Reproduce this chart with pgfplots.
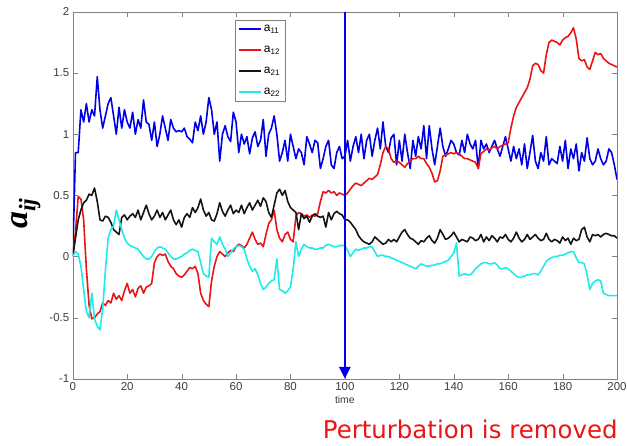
\documentclass[border=0pt]{standalone}
\usepackage{fontspec}
\setmainfont{Liberation Sans}
\newfontfamily\serifbi{Liberation Serif}
\newfontfamily\dejavu{DejaVu Sans}
\usepackage{pgfplots}
\pgfplotsset{compat=1.18}
\usepackage{pgfplotstable}
\usetikzlibrary{arrows.meta}

\definecolor{cA}{RGB}{0,0,230}
\definecolor{cB}{RGB}{235,20,20}
\definecolor{cC}{RGB}{20,20,20}
\definecolor{cD}{RGB}{30,235,235}
\definecolor{axgray}{RGB}{130,130,130}
\definecolor{txtgray}{RGB}{60,60,60}

% t, a11, a12, a21, a22
\pgfplotstableread{
t a11 a12 a21 a22
0 0.00 0.00 0.00 0.00
1 0.85 0.20 0.15 0.04
2 0.85 0.49 0.30 0.02
3 1.20 0.47 0.38 -0.08
4 1.10 0.30 0.44 -0.27
5 1.25 -0.10 0.46 -0.45
6 1.10 -0.40 0.51 -0.50
7 1.20 -0.51 0.50 -0.30
8 1.15 -0.50 0.56 -0.51
9 1.47 -0.47 0.45 -0.57
10 1.20 -0.45 0.30 -0.60
11 1.05 -0.38 0.29 -0.43
12 1.15 -0.40 0.33 -0.11
13 1.25 -0.36 0.32 0.15
14 1.30 -0.38 0.28 0.22
15 1.15 -0.30 0.22 0.25
16 1.00 -0.35 0.20 0.38
17 1.22 -0.32 0.18 0.30
18 1.05 -0.36 0.32 0.22
19 1.20 -0.28 0.34 0.15
20 1.10 -0.22 0.30 0.11
21 1.05 -0.30 0.33 0.09
22 1.18 -0.27 0.35 0.08
23 1.00 -0.33 0.32 0.07
24 1.12 -0.26 0.38 0.06
25 1.05 -0.24 0.30 0.03
26 1.28 -0.30 0.36 0.00
27 1.10 -0.25 0.42 -0.02
28 1.08 -0.24 0.35 -0.02
29 0.95 -0.22 0.30 0.00
30 1.10 -0.05 0.33 0.04
31 0.90 0.00 0.38 0.07
32 1.00 0.02 0.32 0.08
33 1.15 0.01 0.36 0.07
34 1.05 0.02 0.30 0.06
35 0.95 -0.04 0.34 0.03
36 1.12 -0.08 0.38 0.00
37 1.05 -0.10 0.30 -0.02
38 1.02 -0.14 0.26 -0.02
39 1.03 -0.16 0.30 -0.01
40 1.02 -0.17 0.24 0.00
41 1.05 -0.15 0.32 0.02
42 0.98 -0.12 0.35 0.03
43 0.96 -0.09 0.32 0.05
44 0.93 -0.10 0.40 0.06
45 1.10 -0.08 0.36 0.05
46 1.03 -0.14 0.40 0.04
47 1.15 -0.30 0.47 -0.05
48 1.00 -0.36 0.38 -0.14
49 1.10 -0.39 0.33 -0.16
50 1.30 -0.41 0.36 -0.17
51 1.20 -0.20 0.30 0.15
52 1.00 -0.08 0.29 0.12
53 1.10 0.00 0.35 0.10
54 0.78 0.04 0.44 0.16
55 1.00 0.02 0.37 0.10
56 1.07 0.00 0.33 0.06
57 0.98 0.03 0.38 0.00
58 0.94 0.05 0.42 0.03
59 1.18 0.04 0.35 0.06
60 1.10 0.08 0.38 0.08
61 0.85 0.10 0.36 0.09
62 1.00 0.09 0.42 0.08
63 0.92 0.07 0.35 0.06
64 0.98 0.10 0.40 -0.02
65 0.84 0.15 0.44 -0.08
66 0.97 0.20 0.38 -0.12
67 1.02 0.14 0.42 -0.10
68 0.90 0.10 0.46 -0.15
69 0.95 0.11 0.41 -0.22
70 1.12 0.08 0.48 -0.27
71 0.82 0.18 0.45 -0.25
72 1.00 0.27 0.36 -0.22
73 1.05 0.30 0.32 -0.20
74 1.15 0.38 0.42 -0.19
75 1.00 0.22 0.52 -0.02
76 0.78 0.15 0.55 -0.27
77 0.85 0.12 0.50 -0.28
78 0.95 0.18 0.54 -0.30
79 0.78 0.20 0.45 -0.28
80 1.00 0.14 0.40 -0.25
81 0.90 0.12 0.38 -0.10
82 0.80 0.33 0.36 0.12
83 0.88 0.36 0.22 0.00
84 0.85 0.35 0.35 0.06
85 0.75 0.33 0.31 0.10
86 0.98 0.34 0.33 0.08
87 0.92 0.32 0.28 0.07
88 0.85 0.34 0.33 0.07
89 0.95 0.33 0.35 0.06
90 0.93 0.35 0.33 0.06
91 0.72 0.45 0.32 0.07
92 0.80 0.53 0.33 0.07
93 0.90 0.52 0.24 0.09
94 0.95 0.54 0.36 0.10
95 0.75 0.52 0.30 0.09
96 0.72 0.53 0.35 0.08
97 0.85 0.50 0.37 0.08
98 0.90 0.52 0.35 0.09
99 0.80 0.51 0.34 0.09
100 0.82 0.50 0.30 0.09
101 0.95 0.52 0.30 0.05
102 0.78 0.55 0.28 0.00
103 0.90 0.58 0.25 0.03
104 0.98 0.60 0.22 0.06
105 0.85 0.59 0.17 0.05
106 1.00 0.58 0.14 0.06
107 0.80 0.60 0.12 0.07
108 0.95 0.62 0.11 0.07
109 1.00 0.64 0.10 0.08
110 0.82 0.63 0.12 0.08
111 0.95 0.65 0.16 0.04
112 1.05 0.67 0.14 0.00
113 0.88 0.75 0.12 0.01
114 1.10 0.85 0.10 0.01
115 0.90 0.90 0.11 0.00
116 0.85 0.88 0.14 0.00
117 0.97 0.80 0.12 -0.01
118 1.00 0.77 0.14 -0.02
119 0.75 0.78 0.12 -0.03
120 0.95 0.77 0.16 -0.04
121 0.78 0.75 0.20 -0.05
122 1.00 0.73 0.22 -0.06
123 0.85 0.76 0.18 -0.07
124 0.72 0.78 0.15 -0.08
125 0.95 0.80 0.14 -0.09
126 0.82 0.80 0.12 -0.10
127 0.98 0.82 0.10 -0.08
128 0.88 0.80 0.13 -0.06
129 1.07 0.80 0.12 -0.07
130 0.80 0.76 0.15 -0.08
131 1.07 0.73 0.17 -0.08
132 0.88 0.68 0.13 -0.07
133 0.75 0.61 0.11 -0.07
134 0.90 0.62 0.15 -0.06
135 1.05 0.70 0.22 -0.06
136 0.90 0.82 0.18 -0.05
137 0.82 0.83 0.14 -0.04
138 0.88 0.84 0.15 -0.03
139 0.95 0.85 0.17 0.00
140 0.92 0.84 0.20 0.03
141 0.85 0.85 0.16 0.11
142 0.83 0.84 0.12 -0.16
143 0.95 0.82 0.14 -0.15
144 0.85 0.80 0.13 -0.14
145 1.00 0.80 0.12 -0.15
146 0.92 0.79 0.16 -0.15
147 0.88 0.78 0.15 -0.13
148 0.95 0.77 0.13 -0.10
149 0.72 0.72 0.14 -0.08
150 0.95 0.84 0.18 -0.06
151 0.88 0.86 0.12 -0.05
152 0.92 0.88 0.16 -0.05
153 0.85 0.87 0.13 -0.06
154 0.90 0.89 0.17 -0.06
155 0.95 0.90 0.15 -0.05
156 0.88 0.88 0.12 -0.07
157 0.82 0.90 0.16 -0.10
158 0.90 0.91 0.15 -0.10
159 0.98 0.92 0.18 -0.09
160 0.88 0.93 0.14 -0.10
161 0.78 1.05 0.12 -0.12
162 0.90 1.15 0.15 -0.14
163 0.80 1.22 0.20 -0.16
164 0.88 1.26 0.15 -0.17
165 0.75 1.30 0.12 -0.17
166 0.92 1.34 0.14 -0.16
167 0.72 1.38 0.18 -0.15
168 0.85 1.45 0.14 -0.15
169 0.99 1.56 0.16 -0.14
170 0.78 1.58 0.18 -0.14
171 0.72 1.57 0.15 -0.15
172 0.85 1.52 0.13 -0.12
173 0.78 1.50 0.14 -0.08
174 0.98 1.65 0.19 -0.04
175 0.75 1.75 0.14 -0.02
176 0.80 1.77 0.12 -0.01
177 0.78 1.76 0.14 0.00
178 0.76 1.75 0.13 0.00
179 0.90 1.73 0.11 0.01
180 0.78 1.77 0.16 0.01
181 0.95 1.79 0.13 0.02
182 0.72 1.80 0.15 0.03
183 0.88 1.83 0.10 0.04
184 0.80 1.87 0.15 0.04
185 0.92 1.78 0.13 -0.01
186 0.70 1.62 0.14 -0.05
187 0.85 1.60 0.22 -0.05
188 0.78 1.61 0.24 -0.06
189 0.97 1.55 0.16 -0.15
190 0.80 1.53 0.12 -0.27
191 0.75 1.60 0.18 -0.22
192 0.78 1.67 0.17 -0.20
193 0.88 1.65 0.18 -0.19
194 0.80 1.66 0.16 -0.20
195 0.75 1.62 0.18 -0.30
196 0.78 1.60 0.19 -0.31
197 0.88 1.58 0.18 -0.32
198 0.85 1.57 0.17 -0.32
199 0.75 1.56 0.17 -0.32
200 0.63 1.55 0.15 -0.32
}\datatable

\begin{document}
\begin{tikzpicture}
\begin{axis}[
    scale only axis, width=546pt, height=368pt,
    xmin=0, xmax=200, ymin=-1, ymax=2,
    xtick={0,20,...,200}, ytick={-1,-0.5,0,0.5,1,1.5,2},
    axis line style={axgray}, tick style={axgray},
    major tick length=5pt,
    tick label style={font=\fontsize{11.5}{13}\selectfont, text=txtgray},
    /pgf/number format/assume math mode=true,
    xlabel={time},
    xlabel style={font=\fontsize{10.5}{12}\selectfont, text=txtgray, yshift=1pt},
    legend style={at={(0.2985,0.978)}, anchor=north west,
        font=\fontsize{12}{12}\selectfont, draw=axgray, inner sep=3pt,
        row sep=9pt, cells={anchor=west}},
    legend image code/.code={\draw[#1] (0pt,0pt) -- (22pt,0pt);},
    every axis plot/.append style={line width=1.6pt, line join=round},
]
\addplot[cA] table[x=t, y=a11] {\datatable};
\addplot[cB] table[x=t, y=a12] {\datatable};
\addplot[cC] table[x=t, y=a21] {\datatable};
\addplot[cD] table[x=t, y=a22] {\datatable};
\legend{a\textsubscript{11}, a\textsubscript{12}, a\textsubscript{21}, a\textsubscript{22}}
\addplot[cA, line width=2.8pt, -{Triangle[width=11pt,length=12pt]}, forget plot]
    coordinates {(100,2) (100,-1)};
\end{axis}
\node[rotate=90, inner sep=0pt] at (-47pt,166pt) {\serifbi\fontsize{34}{34}\selectfont\bfseries\itshape a\textsubscript{ij}};
\node[anchor=base east, text=cB] at (550pt,-60pt) {\dejavu\fontsize{24.5}{26}\selectfont Perturbation is removed};
\pgfresetboundingbox
\path (-73pt,-67pt) rectangle (556pt,380pt);
\end{tikzpicture}
\end{document}
